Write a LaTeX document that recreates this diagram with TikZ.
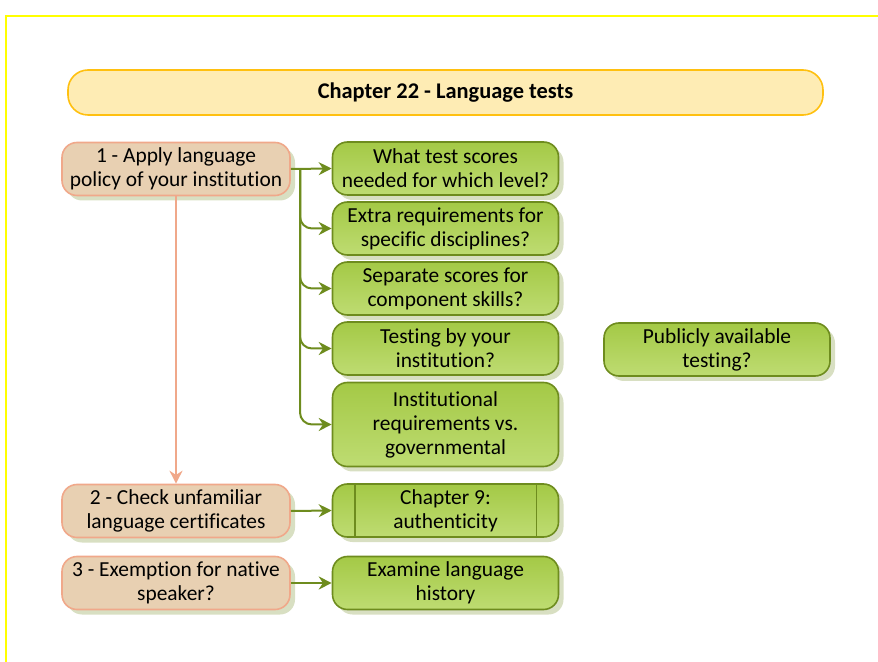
\documentclass[tikz,border=0pt]{standalone}
\usepackage{fontspec}
\setmainfont{Carlito}[Ligatures=NoCommon]
\usetikzlibrary{arrows.meta,shadows}

\definecolor{stepfill}{HTML}{E8D0B2}
\definecolor{stepline}{HTML}{F0A88A}
\definecolor{qtop}{HTML}{A4C946}
\definecolor{qbot}{HTML}{BEDC72}
\definecolor{qline}{HTML}{6E8C1E}
\definecolor{boxshade}{HTML}{D8DFC2}
\definecolor{titlefill}{HTML}{FEECB4}
\definecolor{titleline}{HTML}{FFC010}
\definecolor{frameyellow}{HTML}{FFFF00}

\tikzset{
  box/.style={rounded corners=7.5pt, line width=0.8pt, align=center, inner sep=0pt,
    font=\fontsize{10.7}{12}\selectfont,
    drop shadow={shadow xshift=2.5pt, shadow yshift=-2.5pt, fill=boxshade, opacity=1}},
  stepbox/.style={box, draw=stepline, fill=stepfill, minimum width=114pt, minimum height=26.5pt},
  qbox/.style={box, draw=qline, top color=qtop, bottom color=qbot, minimum width=113pt, minimum height=26.5pt},
  titlebox/.style={rounded corners=10pt, line width=0.8pt, draw=titleline, fill=titlefill,
    minimum width=377.5pt, minimum height=22.5pt, font=\fontsize{11.2}{13}\selectfont\bfseries},
  qarrow/.style={draw=qline, line width=1pt, -{Stealth[length=6.5pt, width=6.5pt]}},
  steparrow/.style={draw=stepline, line width=0.8pt, -{Stealth[length=6.5pt, width=6.5pt]}}
}

\begin{document}
\begin{tikzpicture}[x=0.5pt, y=-0.5pt]
  \useasboundingbox (0,0) rectangle (878,662);
  % frame
  \draw[frameyellow, line width=1pt] (6,662) -- (6,16) -- (878,16);

  % title
  \node[titlebox] (title) at (445.5,92.5) {Chapter 22 - Language tests};

  % steps
  \node[stepbox] (s1) at (176,169) {1 - Apply language\\policy of your institution};
  \node[stepbox] (s2) at (176,511) {2 - Check unfamiliar\\language certificates};
  \node[stepbox] (s3) at (176,583) {3 - Exemption for native\\speaker?};

  % questions
  \node[qbox] (scores) at (445.5,168.5) {What test scores\\needed for which level?};
  \node[qbox] (extra) at (445.5,228.5) {Extra requirements for\\specific disciplines?};
  \node[qbox] (skills) at (445.5,288.5) {Separate scores for\\component skills?};
  \node[qbox] (testing) at (445.5,348.5) {Testing by your\\institution?};
  \node[qbox, minimum height=42pt] (govt) at (445.5,424.5) {Institutional\\requirements vs.\\governmental};
  \node[qbox] (public) at (717,349.5) {Publicly available\\testing?};
  \node[qbox] (ch9) at (445.5,510.5) {Chapter 9:\\authenticity};
  \draw[qline, line width=0.8pt] ([xshift=11.5pt]ch9.north west) -- ([xshift=11.5pt]ch9.south west);
  \draw[qline, line width=0.8pt] ([xshift=-11.5pt]ch9.north east) -- ([xshift=-11.5pt]ch9.south east);
  \node[qbox] (history) at (445.5,583) {Examine language\\history};

  % connectors
  \coordinate (fork) at (300,169);
  \draw[qarrow] (s1.east) -- (scores.west);
  \begin{scope}[rounded corners=6pt]
    \draw[qarrow] (fork) |- (extra.west);
    \draw[qarrow] (fork) |- (skills.west);
    \draw[qarrow] (fork) |- (testing.west);
    \draw[qarrow] (fork) |- (govt.west);
  \end{scope}
  \draw[steparrow] (s1.south) -- (s2.north);
  \draw[qarrow] (s2.east) -- (ch9.west);
  \draw[qarrow] (s3.east) -- (history.west);
\end{tikzpicture}
\end{document}
